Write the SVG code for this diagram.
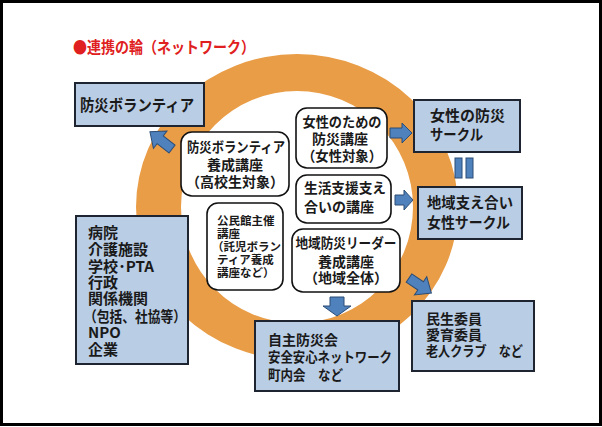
<svg xmlns="http://www.w3.org/2000/svg" width="602" height="427" viewBox="0 0 602 427">
<style>
text{font-family:"Noto Sans CJK JP","Noto Sans",sans-serif;font-weight:bold;fill:#1a1a1a}
.blue{fill:#B9CDE5;stroke:#1E2430;stroke-width:2}
.rnd{fill:#fff;stroke:#111;stroke-width:1.6}
.arr{fill:#4F81BD;stroke:#2C4D75;stroke-width:1}
.t15{font-size:15px}
.t14{font-size:14px}
.t16{font-size:16px}
.t11{font-size:11.5px}
</style>
<defs>
<path id="a22" d="M0,-5 H12 V-10 L22,0 L12,10 V5 H0 Z"/>
</defs>
<rect x="1.5" y="1.5" width="599" height="423" fill="#fff" stroke="#000" stroke-width="3"/>
<text x="73" y="53" font-size="16" textLength="182" lengthAdjust="spacingAndGlyphs" style="fill:#E02020">●連携の輪（ネットワーク）</text>
<path id="ring" fill="#E99D47" fill-rule="evenodd" d="M136,207 a161,153 0 1,0 322,0 a161,153 0 1,0 -322,0 Z M181,207 a116,116 0 1,0 232,0 a116,116 0 1,0 -232,0 Z"/>
<g id="connectors">
<path class="arr" d="M0,-5 H15 V-11 L28,0 L15,11 V5 H0 Z" transform="translate(172,149) rotate(-142)"/>
<path class="arr" d="M0,-5 H12 V-10 L22,0 L12,10 V5 H0 Z" transform="translate(390,133)"/>
<path class="arr" d="M0,-5 H9 V-10 L18,0 L9,10 V5 H0 Z" transform="translate(395,200)"/>
<path class="arr" d="M0,-7 H9 V-14 L19,0 L9,14 V7 H0 Z" transform="translate(337,297) rotate(90)"/>
<path class="arr" d="M0,-5 H14 V-11 L27,0 L14,11 V5 H0 Z" transform="translate(409,278) rotate(34)"/>
<rect class="arr" x="455" y="158" width="7" height="20"/>
<rect class="arr" x="466" y="158" width="7" height="20"/>
</g>
<g id="volunteer">
<rect class="blue" x="75" y="83" width="129" height="43"/>
<text class="t16" x="80" y="111" textLength="114" lengthAdjust="spacingAndGlyphs">防災ボランティア</text>
</g>
<g id="women-circle">
<rect class="blue" x="414" y="100" width="106" height="52"/>
<text class="t15" x="430" y="121">女性の防災</text>
<text class="t15" x="430" y="140" textLength="53" lengthAdjust="spacingAndGlyphs">サークル</text>
</g>
<g id="support-circle">
<rect class="blue" x="418" y="187" width="104" height="52"/>
<text class="t15" x="427" y="208" textLength="86" lengthAdjust="spacingAndGlyphs">地域支え合い</text>
<text class="t15" x="427" y="228" textLength="83" lengthAdjust="spacingAndGlyphs">女性サークル</text>
</g>
<g id="welfare">
<rect class="blue" x="412" y="301" width="122" height="70"/>
<text class="t14" x="426" y="324">民生委員</text>
<text class="t14" x="426" y="340">愛育委員</text>
<text class="t14" x="426" y="356" textLength="97" lengthAdjust="spacingAndGlyphs">老人クラブ　など</text>
</g>
<g id="community">
<rect class="blue" x="255" y="321" width="144" height="70"/>
<text class="t14" x="268" y="345">自主防災会</text>
<text class="t14" x="268" y="362" textLength="124" lengthAdjust="spacingAndGlyphs">安全安心ネットワーク</text>
<text class="t14" x="268" y="380" textLength="75" lengthAdjust="spacingAndGlyphs">町内会　など</text>
</g>
<g id="organizations">
<rect class="blue" x="76" y="216" width="112" height="148"/>
<text class="t15" x="88" y="238">病院</text>
<text class="t15" x="88" y="255">介護施設</text>
<text class="t15" x="88" y="272" textLength="66" lengthAdjust="spacingAndGlyphs">学校･PTA</text>
<text class="t15" x="88" y="288">行政</text>
<text class="t15" x="88" y="304">関係機関</text>
<text class="t15" x="84" y="322" textLength="102" lengthAdjust="spacingAndGlyphs">（包括、社協等）</text>
<text class="t15" x="88" y="338">NPO</text>
<text class="t15" x="88" y="355">企業</text>
</g>
<g id="volunteer-course">
<rect class="rnd" x="181" y="132" width="108" height="64" rx="11"/>
<text class="t14" x="187" y="152" textLength="98" lengthAdjust="spacingAndGlyphs">防災ボランティア</text>
<text class="t14" x="235" y="170" text-anchor="middle">養成講座</text>
<text class="t14" x="235" y="187" text-anchor="middle">（高校生対象）</text>
</g>
<g id="kominkan-course">
<rect class="rnd" x="207" y="203" width="76" height="87" rx="11"/>
<text class="t11" x="217" y="225">公民館主催</text>
<text class="t11" x="217" y="238">講座</text>
<text class="t11" x="212" y="251">（託児ボラン</text>
<text class="t11" x="217" y="264">ティア養成</text>
<text class="t11" x="217" y="277">講座など）</text>
</g>
<g id="women-course">
<rect class="rnd" x="296" y="108" width="91" height="60" rx="11"/>
<text class="t14" x="342" y="127" text-anchor="middle" textLength="79" lengthAdjust="spacingAndGlyphs">女性のための</text>
<text class="t14" x="340" y="144" text-anchor="middle">防災講座</text>
<text class="t14" x="342" y="161" text-anchor="middle" textLength="80" lengthAdjust="spacingAndGlyphs">（女性対象）</text>
</g>
<g id="support-course">
<rect class="rnd" x="296" y="175" width="95" height="48" rx="11"/>
<text class="t14" x="304" y="193" textLength="82" lengthAdjust="spacingAndGlyphs">生活支援支え</text>
<text class="t14" x="304" y="212">合いの講座</text>
</g>
<g id="leader-course">
<rect class="rnd" x="292" y="229" width="108" height="63" rx="11"/>
<text class="t14" x="346" y="248" text-anchor="middle" textLength="101" lengthAdjust="spacingAndGlyphs">地域防災リーダー</text>
<text class="t14" x="346" y="267" text-anchor="middle">養成講座</text>
<text class="t14" x="346" y="283" text-anchor="middle">（地域全体）</text>
</g>
</svg>
